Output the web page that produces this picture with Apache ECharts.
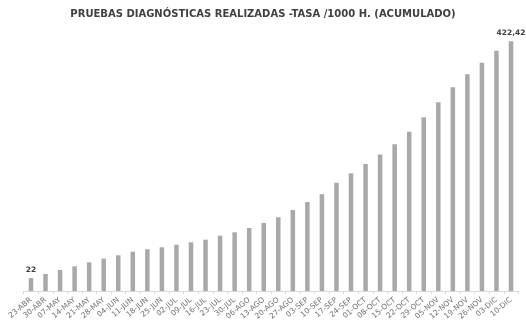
<!DOCTYPE html>
<html>
<head>
<meta charset="utf-8">
<script src="https://cdn.jsdelivr.net/npm/echarts@6/dist/echarts.min.js"></script>
<style>html,body{margin:0;padding:0;background:#fff}#c{width:526px;height:328px}</style>
</head>
<body>
<div id="c"></div>
<script>
const titleText = 'PRUEBAS DIAGNÓSTICAS REALIZADAS -TASA /1000 H. (ACUMULADO)';
const categories = ['23-ABR','30-ABR','07-MAY','14-MAY','21-MAY','28-MAY','04-JUN','11-JUN','18-JUN','25-JUN','02-JUL','09-JUL','16-JUL','23-JUL','30-JUL','06-AGO','13-AGO','20-AGO','27-AGO','03-SEP','10-SEP','17-SEP','24-SEP','01-OCT','08-OCT','15-OCT','22-OCT','29-OCT','05-NOV','12-NOV','19-NOV','26-NOV','03-DIC','10-DIC'];
const values = [22,28.8,35.5,41.8,48.6,54.7,60.4,66.5,70.6,73.9,78.3,82.4,86.8,93.6,99.3,106.6,115.1,124.7,137.1,150.6,163.8,183.2,199.2,214.9,231,248.2,269.5,293.9,319.3,344.7,366.7,386.3,406.6,422.42];
const labelledIndices = [0, 33];

const chart = echarts.init(document.getElementById('c'), null, {renderer:'canvas'});
const data = values.map((v, i) => ({
  value: v,
  label: { show: labelledIndices.includes(i) }
}));
chart.setOption({
  animation: false,
  title: {
    text: titleText,
    left: 'center',
    top: 4,
    textStyle: { fontFamily: 'DejaVu Sans', fontSize: 10, fontWeight: 'bold', color: '#404040' }
  },
  grid: { left: 23.7, right: 7.7, top: 41.3, bottom: 37 },
  xAxis: {
    type: 'category',
    data: categories,
    axisLine: { lineStyle: { color: '#d9d9d9', width: 1 } },
    axisTick: { show: true, length: 3, lineStyle: { color: '#d9d9d9' } },
    axisLabel: { interval: 0, rotate: 40, margin: 8, fontFamily: 'DejaVu Sans', fontSize: 7.5, color: '#707070' }
  },
  yAxis: {
    type: 'value',
    min: 0,
    max: Math.max(...values),
    show: false,
    splitLine: { show: false }
  },
  series: [{
    type: 'bar',
    data: data,
    barWidth: 4.5,
    itemStyle: { color: '#aba8a8' },
    label: {
      position: 'top',
      distance: 4,
      fontFamily: 'DejaVu Sans',
      fontSize: 7.5,
      fontWeight: 'bold',
      color: '#404040',
      formatter: p => String(p.value).replace('.', ',')
    }
  }]
});
</script>
</body>
</html>
